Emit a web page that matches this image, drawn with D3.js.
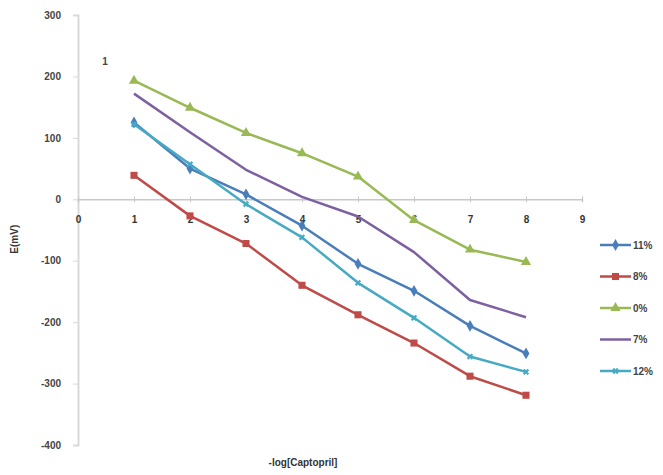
<!DOCTYPE html>
<html><head><meta charset="utf-8">
<script src="https://cdn.jsdelivr.net/npm/d3@7"></script>
<style>body{margin:0;background:#fff}svg{display:block}text{font-family:"Liberation Sans",Arial,sans-serif}</style>
</head><body>
<script>
const xValues = [1,2,3,4,5,6,7,8];
const seriesNames = ["11%","8%","0%","7%","12%"];
const s11 = [125, 50, 8, -43, -105, -149, -206, -251];
const s8 = [39, -27, -72, -140, -188, -234, -288, -319];
const s0 = [193, 149, 108, 75, 37, -34, -82, -102];
const s7 = [172, 109, 48, 4, -28, -86, -164, -192];
const s12 = [122, 57, -8, -62, -136, -193, -256, -281];
const xTicks = [0,1,2,3,4,5,6,7,8,9];
const yTicks = [300,200,100,0,-100,-200,-300,-400];
const colors = ["#4A7EBB","#BE4B48","#98B954","#7D60A0","#46AAC5"];
const markers = ["diamond","square","triangle","none","cross"];
const allSeries = [s11,s8,s0,s7,s12];

const W=663,H=475;
const svg=d3.select("body").append("svg").attr("width",W).attr("height",H);
const x=d3.scaleLinear().domain([0,9]).range([78,582]);
const y=d3.scaleLinear().domain([-400,300]).range([445,15]);

// y axis
const yAxis=svg.append("g").attr("transform",`translate(${x(0)},0)`)
  .call(d3.axisLeft(y).tickValues(yTicks).tickSize(5).tickPadding(12).tickFormat(d=>String(d)));
yAxis.select(".domain").attr("stroke","#d9d9d9").attr("stroke-width",2);
yAxis.selectAll(".tick line").attr("stroke","#d9d9d9");
yAxis.selectAll("text").attr("font-size",10).attr("font-weight","bold").attr("fill","#444");

// x axis at y=0
const xAxis=svg.append("g").attr("transform",`translate(0,${y(0)})`)
  .call(d3.axisBottom(x).tickValues(xTicks).tickSize(3).tickPadding(14).tickFormat(d=>String(d)));
xAxis.select(".domain").attr("stroke","#c8c8c8").attr("stroke-width",1.5);
xAxis.selectAll(".tick line").attr("stroke","#c8c8c8").attr("y1",-3);
xAxis.selectAll("text").attr("font-size",10).attr("font-weight","bold").attr("fill","#333");

const line=d3.line().x((d,i)=>x(xValues[i])).y(d=>y(d));
const sym={diamond:d3.symbolDiamond,square:d3.symbolSquare,triangle:d3.symbolTriangle};
const symSize={diamond:40,square:50,triangle:45};

allSeries.forEach((s,k)=>{
  svg.append("path").datum(s).attr("d",line).attr("fill","none")
    .attr("stroke",colors[k]).attr("stroke-width",2.5).attr("stroke-linejoin","round");
  const m=markers[k];
  if(sym[m]){
    svg.append("g").selectAll("path").data(s).join("path")
      .attr("transform",(d,i)=>`translate(${x(xValues[i])},${y(d)})`)
      .attr("d",d3.symbol().type(sym[m]).size(symSize[m]))
      .attr("fill",colors[k]);
  } else if(m==="cross"){
    svg.append("g").selectAll("path").data(s).join("path")
      .attr("transform",(d,i)=>`translate(${x(xValues[i])},${y(d)}) rotate(45)`)
      .attr("d",d3.symbol().type(d3.symbolCross).size(25))
      .attr("fill",colors[k]);
  }
});

// legend
const lg=svg.append("g");
seriesNames.forEach((n,k)=>{
  const ly=245+k*31.5;
  lg.append("line").attr("x1",600).attr("x2",631).attr("y1",ly).attr("y2",ly)
    .attr("stroke",colors[k]).attr("stroke-width",2.5);
  const m=markers[k];
  if(sym[m]) lg.append("path").attr("transform",`translate(615.5,${ly})`)
    .attr("d",d3.symbol().type(sym[m]).size(symSize[m])).attr("fill",colors[k]);
  else if(m==="cross") lg.append("path").attr("transform",`translate(615.5,${ly}) rotate(45)`)
    .attr("d",d3.symbol().type(d3.symbolCross).size(25)).attr("fill",colors[k]);
  lg.append("text").attr("x",633).attr("y",ly+3.5).attr("font-size",10).attr("font-weight","bold")
    .attr("fill","#444").text(n);
});

// titles
svg.append("text").attr("transform",`translate(18,${y(-65)}) rotate(-90)`)
  .attr("text-anchor","middle").attr("font-size",10).attr("font-weight","bold").attr("fill","#333").text("E(mV)");
svg.append("text").attr("x",303).attr("y",466).attr("text-anchor","middle")
  .attr("font-size",10).attr("font-weight","bold").attr("fill","#333").text("-log[Captopril]");
svg.append("text").attr("x",105).attr("y",65).attr("text-anchor","middle")
  .attr("font-size",10).attr("font-weight","bold").attr("fill","#444").text("1");
</script>
</body></html>
